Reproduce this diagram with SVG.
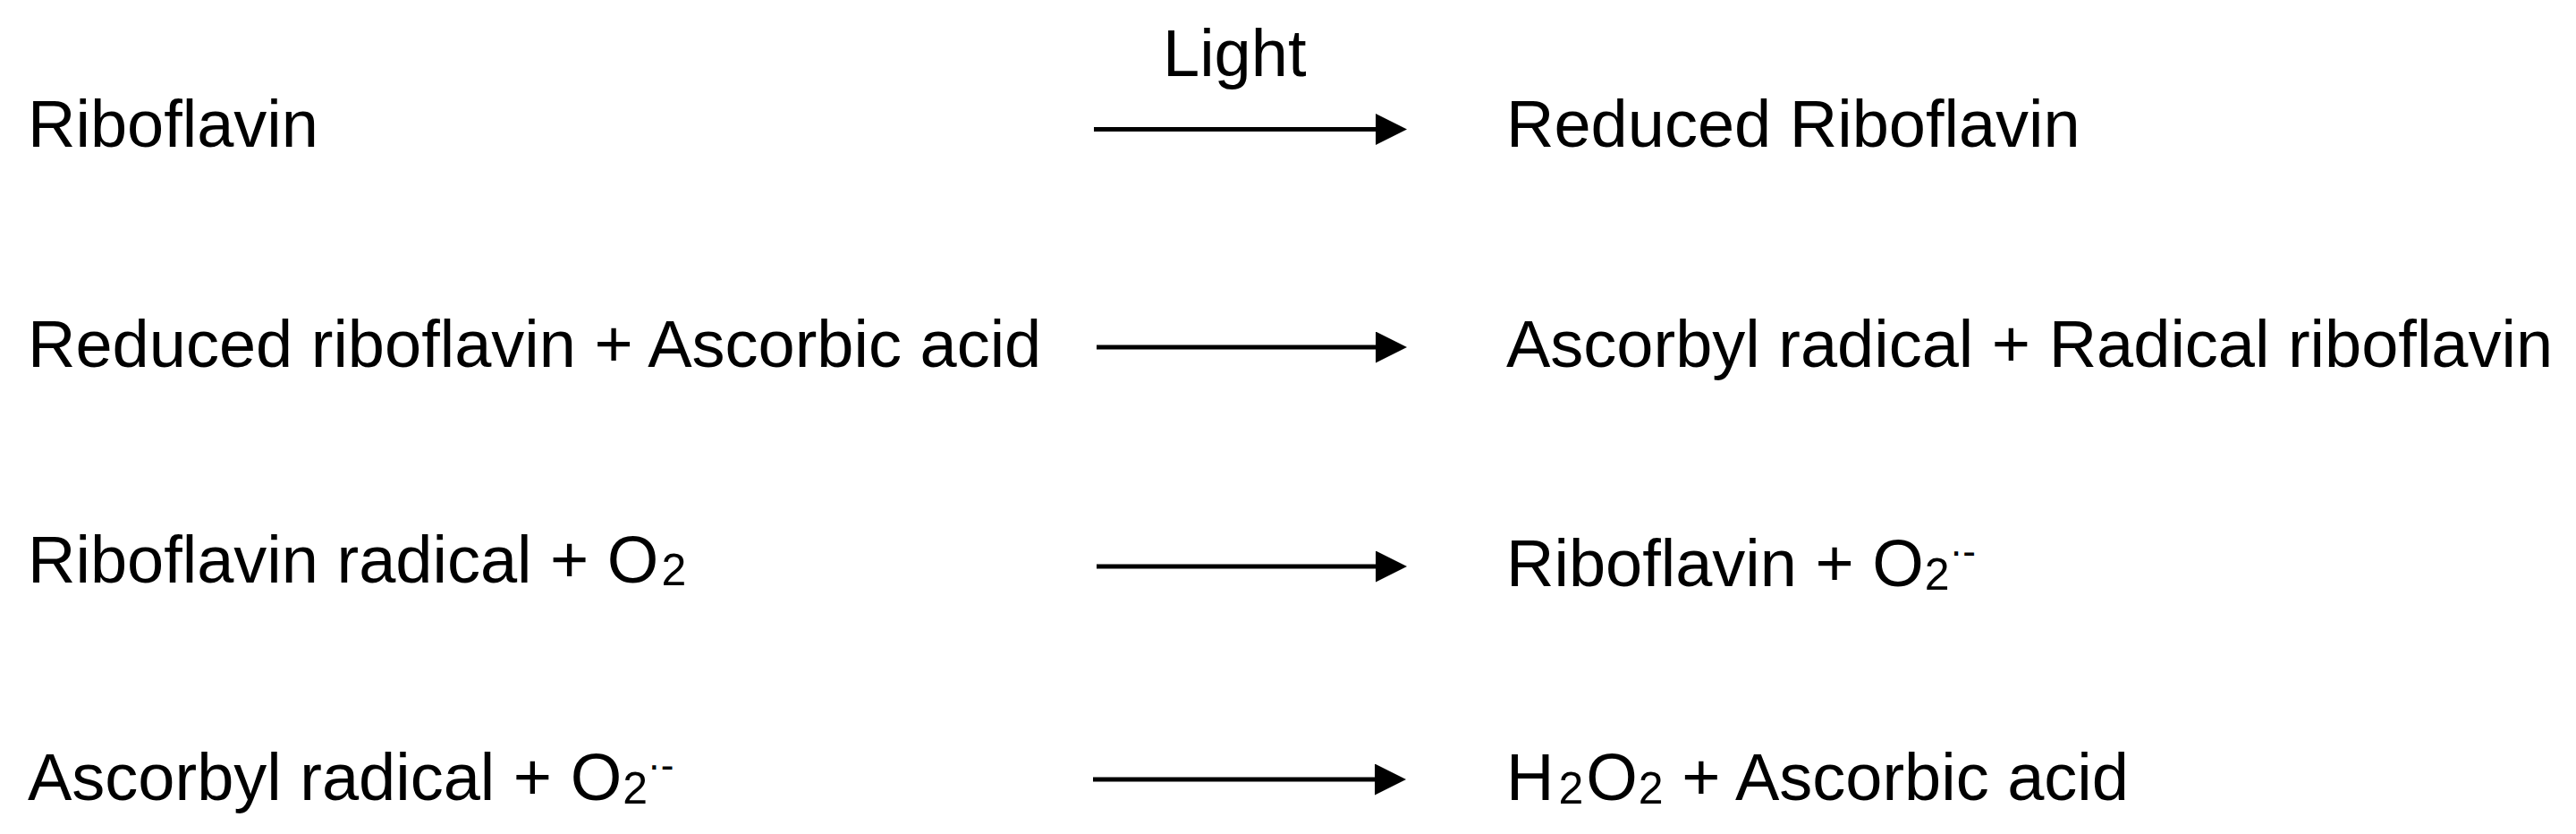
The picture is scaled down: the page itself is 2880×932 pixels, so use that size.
<svg xmlns="http://www.w3.org/2000/svg" width="2880" height="932" viewBox="0 0 2880 932">
<style>
.t{font-family:"Liberation Sans",Arial,Helvetica,sans-serif;font-size:74px;fill:#000}
.sub{font-size:50px}
.sup{font-size:44px}
.arr{stroke:#000;stroke-width:5;fill:none}
</style>
<defs>
<marker id="ah" markerUnits="userSpaceOnUse" markerWidth="35" markerHeight="35" viewBox="0 0 35 35" refX="0" refY="17.5" orient="auto">
<path d="M0,0 L35,17.5 L0,35 Z" fill="#000"/>
</marker>
</defs>
<rect width="2880" height="932" fill="#fff"/>
<g id="connectors">
<g id="arrow1"><line class="arr" x1="1223" y1="144.5" x2="1538" y2="144.5" marker-end="url(#ah)"/><text class="t" x="1300" y="85">Light</text></g>
<line id="arrow2" class="arr" x1="1226" y1="388" x2="1538" y2="388" marker-end="url(#ah)"/>
<line id="arrow3" class="arr" x1="1226" y1="633" x2="1538" y2="633" marker-end="url(#ah)"/>
<line id="arrow4" class="arr" x1="1222" y1="871" x2="1537" y2="871" marker-end="url(#ah)"/>
</g>
<g id="r1-left"><text class="t" x="31" y="164">Riboflavin</text></g>
<g id="r1-right"><text class="t" x="1684" y="164">Reduced Riboflavin</text></g>
<g id="r2-left"><text class="t" x="31" y="410">Reduced riboflavin + Ascorbic acid</text></g>
<g id="r2-right"><text class="t" x="1684" y="410">Ascorbyl radical + Radical riboflavin</text></g>
<g id="r3-left"><text class="t" x="31" y="651">Riboflavin radical + O<tspan class="sub" dx="3" dy="3">2</tspan></text></g>
<g id="r3-right"><text class="t" x="1684" y="655">Riboflavin + O<tspan class="sub" dx="1" dy="4">2</tspan><tspan class="sup" dy="-28.5">·-</tspan></text></g>
<g id="r4-left"><text class="t" x="31" y="894">Ascorbyl radical + O<tspan class="sub" dx="1" dy="4">2</tspan><tspan class="sup" dy="-28.5">·-</tspan></text></g>
<g id="r4-right"><text class="t" x="1684" y="894">H<tspan class="sub" dx="5" dy="4">2</tspan><tspan dx="3" dy="-4">O</tspan><tspan class="sub" dx="1" dy="4">2</tspan><tspan dy="-4"> + Ascorbic acid</tspan></text></g>
</svg>
